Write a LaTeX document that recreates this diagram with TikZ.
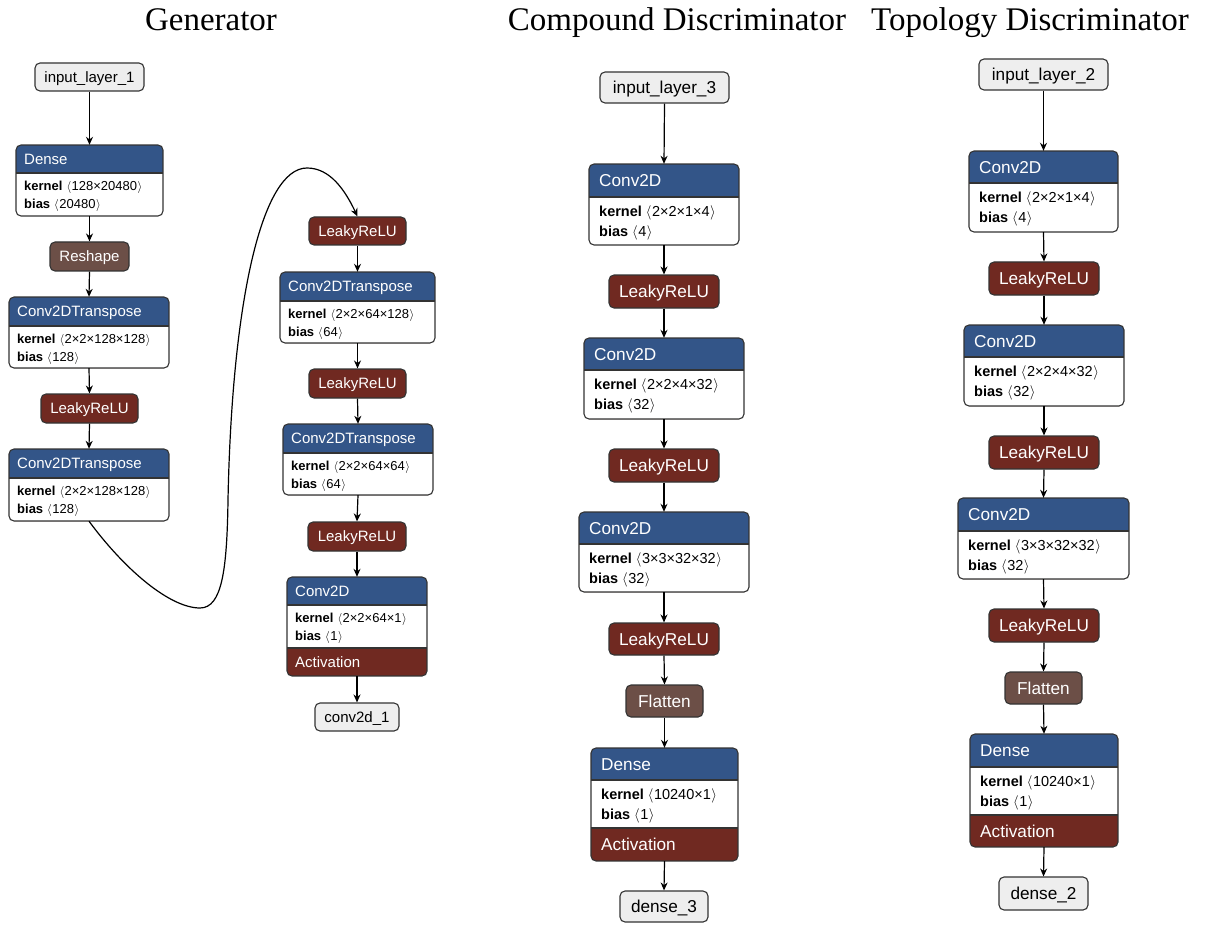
\documentclass[tikz,border=0pt]{standalone}
\usepackage{fontspec}
\setmainfont{Liberation Serif}
\newfontfamily\boxfont{Liberation Sans}
\usetikzlibrary{arrows.meta,fit}
\definecolor{hdr}{HTML}{335588}
\definecolor{act}{HTML}{702921}
\definecolor{shp}{HTML}{6C4F47}
\definecolor{iofill}{HTML}{EEEEEE}
\definecolor{frm}{HTML}{333333}
\tikzset{
 frame/.style={draw=frm, line width=1.1pt},
 arr/.style={draw=black, line width=1.2pt, -{Stealth[length=8pt,width=7pt]}},
 gtxt/.style={font=\boxfont\fontsize{15}{18}\selectfont, inner sep=0pt, text height=10.7pt, text depth=0pt},
 dtxt/.style={font=\boxfont\fontsize{17.2}{20}\selectfont, inner sep=0pt, text height=12.3pt, text depth=0pt},
 gbody/.style={font=\boxfont\fontsize{13}{15}\selectfont, inner sep=0pt, text height=9.3pt, text depth=0pt},
 dbody/.style={font=\boxfont\fontsize{14.5}{17}\selectfont, inner sep=0pt, text height=10.4pt, text depth=0pt},
 titletxt/.style={font=\fontsize{33}{38}\selectfont, inner sep=0pt, anchor=base},
 actbox/.style={fill=act, draw=frm, line width=1.1pt, text=white},
 shpbox/.style={fill=shp, draw=frm, line width=1.1pt, text=white},
 iobox/.style={fill=iofill, draw=frm, line width=1.1pt, text=black},
}
\def\gpad{8}\def\dpad{10}
\def\gko{13}\def\dko{14.7}
\def\gbo{30.7}\def\dbo{34.3}
\newcommand\simplenode[8]{%
 \node[#1txt, #2, rounded corners=5pt, minimum width={(#6-#4)*1pt}, minimum height={(#7-#5)*1pt}] (#3) at ({(#4+#6)/2},{(#5+#7)/2}) {#8};%
}
\def\lbparse#1,#2,#3,#4,#5,#6\relax{\def\bl{#1}\def\bt{#2}\def\br{#3}\def\bh{#4}\def\bb{#5}\def\ba{#6}}
\newcommand\layerbox[6]{%
 \lbparse#3\relax
 \edef\pad{\csname #1pad\endcsname}\edef\ko{\csname #1ko\endcsname}\edef\bo{\csname #1bo\endcsname}%
 \begin{scope}
  \clip[rounded corners=5pt] (\bl,\bt) rectangle (\br,\ba);
  \fill[hdr] (\bl,\bt) rectangle (\br,\bh);
  \fill[white] (\bl,\bh) rectangle (\br,\bb);
  \fill[act] (\bl,\bb) rectangle (\br,\ba);
 \end{scope}
 \draw[frame] (\bl,\bh) -- (\br,\bh);
 \ifdim\ba pt>\bb pt
   \draw[frame] (\bl,\bb) -- (\br,\bb);
   \node[#1txt, text=white, anchor=west] at ({\bl+\pad},{(\bb+\ba)/2}) {Activation};
 \fi
 \draw[frame, rounded corners=5pt] (\bl,\bt) rectangle (\br,\ba);
 \node[inner sep=0pt, fit={(\bl,\bt) (\br,\ba)}] (#2) {};
 \node[#1txt, text=white, anchor=west] at ({\bl+\pad},{(\bt+\bh)/2}) {#4};
 \node[#1body, anchor=west] at ({\bl+\pad},{\bh+\ko}) {\textbf{kernel}\hspace{4pt}$\langle$\kern0.5pt#5\kern0.5pt$\rangle$};
 \node[#1body, anchor=west] at ({\bl+\pad},{\bh+\bo}) {\textbf{bias}\hspace{4pt}$\langle$\kern0.5pt#6\kern0.5pt$\rangle$};
}
\begin{document}
\begin{tikzpicture}[x=1pt,y=-1pt]
\useasboundingbox (0,0) rectangle (1220,925);
% titles
\node[titletxt] (ttl1) at (211,31) {Generator};
\node[titletxt] (ttl2) at (677,31) {Compound Discriminator};
\node[titletxt] (ttl3) at (1030,31) {Topology Discriminator};
% generator
\simplenode{g}{iobox}{g0}{35}{63}{144}{91}{input\_layer\_1}
\layerbox{g}{g1}{16,145,163,173,216,216}{Dense}{128×20480}{20480}
\simplenode{g}{shpbox}{g2}{50}{242}{129}{271}{Reshape}
\layerbox{g}{g3}{9,297,169,326,368,368}{Conv2DTranspose}{2×2×128×128}{128}
\simplenode{g}{actbox}{g4}{41}{394}{138}{423}{LeakyReLU}
\layerbox{g}{g5}{9,449,169,478,521,521}{Conv2DTranspose}{2×2×128×128}{128}
\simplenode{g}{actbox}{g6}{309}{217}{406}{245}{LeakyReLU}
\layerbox{g}{g7}{280,272,435,301,343,343}{Conv2DTranspose}{2×2×64×128}{64}
\simplenode{g}{actbox}{g8}{309}{369}{406}{398}{LeakyReLU}
\layerbox{g}{g9}{283,424,433,453,495,495}{Conv2DTranspose}{2×2×64×64}{64}
\simplenode{g}{actbox}{g10}{308}{522}{406}{551}{LeakyReLU}
\layerbox{g}{g11}{287,577,427,605,648,676}{Conv2D}{2×2×64×1}{1}
\simplenode{g}{iobox}{g12}{315}{703}{399}{731}{conv2d\_1}
% compound discriminator
\simplenode{d}{iobox}{c0}{600}{72}{729}{103}{input\_layer\_3}
\layerbox{d}{c1}{589,164,739,197,245,245}{Conv2D}{2×2×1×4}{4}
\simplenode{d}{actbox}{c2}{609}{275}{719}{308}{LeakyReLU}
\layerbox{d}{c3}{584,338,744,370,419,419}{Conv2D}{2×2×4×32}{32}
\simplenode{d}{actbox}{c4}{609}{449}{719}{482}{LeakyReLU}
\layerbox{d}{c5}{579,512,749,544,592,592}{Conv2D}{3×3×32×32}{32}
\simplenode{d}{actbox}{c6}{609}{623}{719}{655}{LeakyReLU}
\simplenode{d}{shpbox}{c7}{626}{685}{703}{717}{Flatten}
\layerbox{d}{c8}{591,748,738,780,828,861}{Dense}{10240×1}{1}
\simplenode{d}{iobox}{c9}{620}{891}{708}{922}{dense\_3}
% topology discriminator
\simplenode{d}{iobox}{p0}{979}{59}{1108}{90}{input\_layer\_2}
\layerbox{d}{p1}{969,151,1118,183,232,232}{Conv2D}{2×2×1×4}{4}
\simplenode{d}{actbox}{p2}{989}{262}{1099}{295}{LeakyReLU}
\layerbox{d}{p3}{964,325,1124,357,406,406}{Conv2D}{2×2×4×32}{32}
\simplenode{d}{actbox}{p4}{989}{436}{1099}{469}{LeakyReLU}
\layerbox{d}{p5}{958,498,1129,531,579,579}{Conv2D}{3×3×32×32}{32}
\simplenode{d}{actbox}{p6}{989}{609}{1099}{642}{LeakyReLU}
\simplenode{d}{shpbox}{p7}{1005}{672}{1082}{704}{Flatten}
\layerbox{d}{p8}{970,734,1118,767,815,847}{Dense}{10240×1}{1}
\simplenode{d}{iobox}{p9}{999}{877}{1088}{910}{dense\_2}
% connectors
\foreach \a/\b in {g0/g1,g1/g2,g2/g3,g3/g4,g4/g5,g6/g7,g7/g8,g8/g9,g9/g10,g10/g11,g11/g12,
  c0/c1,c1/c2,c2/c3,c3/c4,c4/c5,c5/c6,c6/c7,c7/c8,c8/c9,
  p0/p1,p1/p2,p2/p3,p3/p4,p4/p5,p5/p6,p6/p7,p7/p8,p8/p9}
  \draw[arr] (\a.south) -- (\b.north);
\draw[arr] (g5.south) .. controls (125,570) and (170,608) .. (200,608)
  .. controls (222,608) and (227,570) .. (228,500)
  .. controls (232,300) and (262,168) .. (307,168)
  .. controls (330,168) and (345,190) .. (g6.north);
\end{tikzpicture}
\end{document}
